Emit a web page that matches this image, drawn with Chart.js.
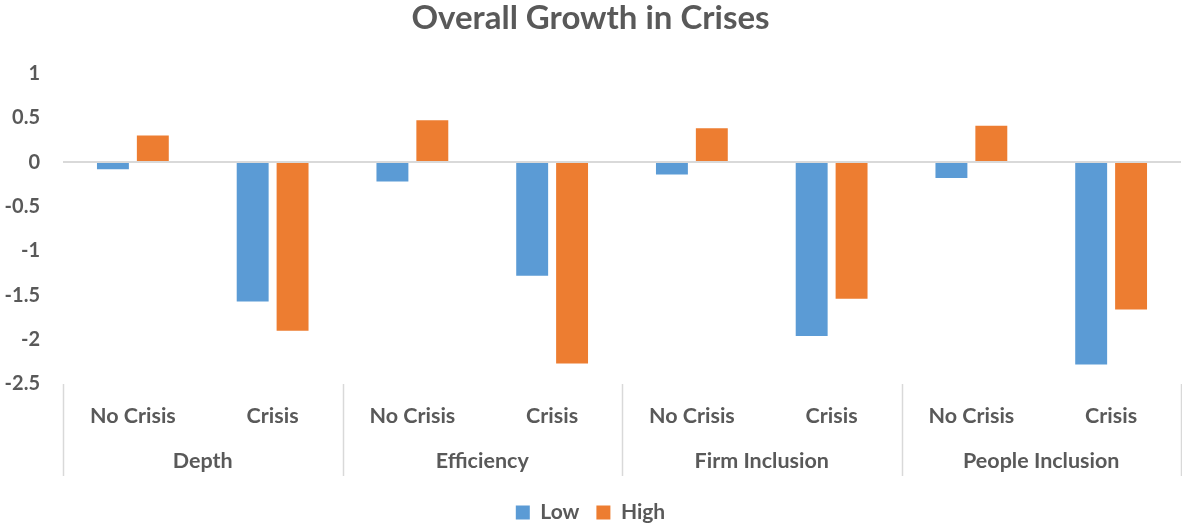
<!DOCTYPE html>
<html>
<head>
<meta charset="utf-8">
<script src="https://cdn.jsdelivr.net/npm/chart.js@4"></script>
<style>
  html, body { margin: 0; padding: 0; background: #fff; overflow: hidden; }
  #wrap { width: 1182px; height: 525px; }
</style>
</head>
<body>
<div id="wrap"><canvas id="growthChart"></canvas></div>
<script>
// Datos del gráfico
const groups = ["Depth", "Efficiency", "Firm Inclusion", "People Inclusion"];
const subLabels = ["No Crisis", "Crisis", "No Crisis", "Crisis", "No Crisis", "Crisis", "No Crisis", "Crisis"];
const lowValues = [-0.08, -1.57, -0.22, -1.28, -0.14, -1.96, -0.18, -2.28];
const highValues = [0.30, -1.90, 0.47, -2.27, 0.38, -1.54, 0.41, -1.66];
const yTicks = [1, 0.5, 0, -0.5, -1, -1.5, -2, -2.5];

const textColor = "#595959";
const fontFamily = "Lato, 'Open Sans', sans-serif";
const labelSize = 21.5;

// Plugin para las etiquetas de grupo y separadores
const groupAxis = {
    id: "groupAxis",
    afterDraw(chart) {
        const ctx = chart.ctx;
        const x = chart.scales.x;
        const bottom = chart.chartArea.bottom;
        const perGroup = subLabels.length / groups.length;
        const step = x.getPixelForValue(1) - x.getPixelForValue(0);
        ctx.save();
        ctx.strokeStyle = "#d9d9d9";
        ctx.lineWidth = 1.5;
        for (let g = 0; g <= groups.length; g++) {
            const px = Math.round(x.getPixelForValue(g * perGroup) - step / 2) + 0.5;
            ctx.beginPath();
            ctx.moveTo(px, bottom);
            ctx.lineTo(px, bottom + 92);
            ctx.stroke();
        }
        ctx.fillStyle = textColor;
        ctx.font = "bold " + labelSize + "px " + fontFamily;
        ctx.textAlign = "center";
        ctx.textBaseline = "middle";
        groups.forEach((name, g) => {
            const a = x.getPixelForValue(g * perGroup);
            const b = x.getPixelForValue(g * perGroup + perGroup - 1);
            ctx.fillText(name, (a + b) / 2, bottom + 77);
        });
        ctx.restore();
    }
};

const data = {
    labels: subLabels,
    datasets: [
        {
            label: "Low",
            data: lowValues,
            backgroundColor: "#5b9bd5",
            categoryPercentage: 0.571,
            barPercentage: 0.8,
        },
        {
            label: "High",
            data: highValues,
            backgroundColor: "#ed7d31",
            categoryPercentage: 0.571,
            barPercentage: 0.8,
        },
    ],
};

const config = {
    type: "bar",
    data: data,
    plugins: [groupAxis],
    options: {
        responsive: true,
        maintainAspectRatio: false,
        animation: false,
        layout: { padding: { left: 0, right: 1, top: 0, bottom: 0 } },
        plugins: {
            title: {
                display: true,
                text: "Overall Growth in Crises",
                color: textColor,
                font: { family: fontFamily, size: 33, weight: "bold", lineHeight: 1.1 },
                padding: { top: 0, bottom: 37 },
            },
            legend: {
                position: "bottom",
                maxHeight: 40,
                labels: {
                    color: textColor,
                    font: { family: fontFamily, size: 21, weight: "bold" },
                    boxWidth: 14,
                    boxHeight: 14,
                    padding: 17,
                },
            },
            tooltip: { enabled: false },
        },
        scales: {
            x: {
                grid: { display: false },
                border: { display: false },
                ticks: {
                    color: textColor,
                    font: { family: fontFamily, size: labelSize, weight: "bold" },
                    padding: 11,
                    maxRotation: 0,
                },
                afterFit(scale) { scale.height = 101; },
            },
            y: {
                min: -2.5,
                max: 1,
                border: { display: false },
                grid: {
                    drawTicks: false,
                    color: (c) => (c.tick && c.tick.value === 0 ? "#d9d9d9" : "rgba(0,0,0,0)"),
                    lineWidth: 2,
                },
                afterBuildTicks(scale) {
                    scale.ticks = yTicks.map((v) => ({ value: v }));
                },
                ticks: {
                    color: textColor,
                    font: { family: fontFamily, size: 20, weight: "bold" },
                    padding: 23,
                    callback: (v) => String(v),
                },
                afterFit(scale) { scale.width = 63; },
            },
        },
    },
};

const growthChart = new Chart(document.getElementById("growthChart"), config);
</script>
</body>
</html>
